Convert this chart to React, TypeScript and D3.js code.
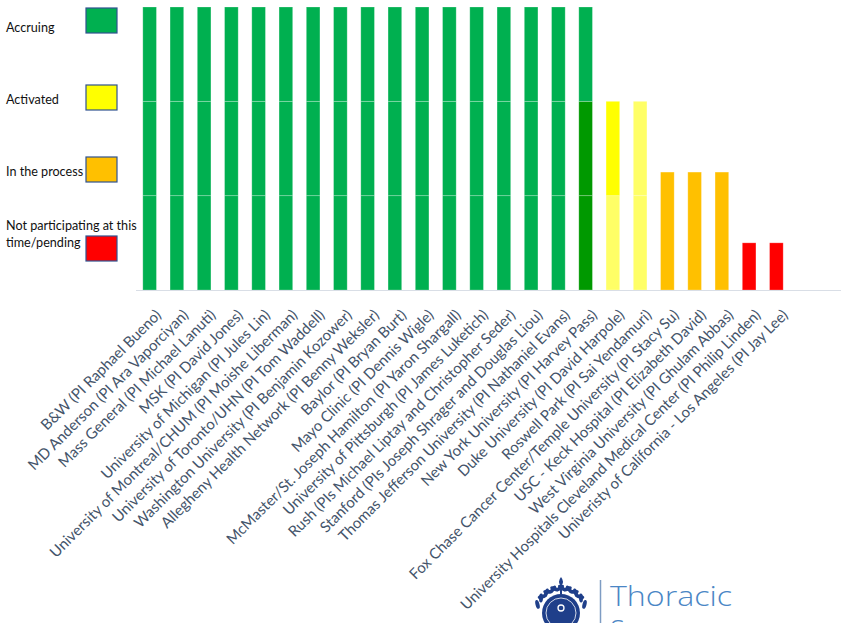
import React from "react";
import * as d3 from "d3";

const sites = [
  "B&W (PI Raphael Bueno)",
  "MD Anderson (PI Ara Vaporciyan)",
  "Mass General (PI Michael Lanuti)",
  "MSK (PI David Jones)",
  "University of Michigan (PI Jules Lin)",
  "University of Montreal/CHUM (PI Moishe Liberman)",
  "University of Toronto/UHN (PI Tom Waddell)",
  "Washington University (PI Benjamin Kozower)",
  "Allegheny Health Network (PI Benny Weksler)",
  "Baylor (PI Bryan Burt)",
  "Mayo Clinic (PI Dennis Wigle)",
  "McMaster/St. Joseph Hamilton (PI Yaron Shargall)",
  "University of Pittsburgh (PI James Luketich)",
  "Rush (PIs Michael Liptay and Christopher Seder)",
  "Stanford (PIs Joseph Shrager and Douglas Liou)",
  "Thomas Jefferson University (PI Nathaniel Evans)",
  "New York University (PI Harvey Pass)",
  "Duke University (PI David Harpole)",
  "Roswell Park (PI Sai Yendamuri)",
  "Fox Chase Cancer Center/Temple University (PI Stacy Su)",
  "USC - Keck Hospital (PI Elizabeth David)",
  "West Virginia University (PI Ghulam Abbas)",
  "University Hospitals Cleveland Medical Center (PI Philip Linden)",
  "Univeristy of California - Los Angeles (PI Jay Lee)",
];

// three stacked layers, bottom to top
const bottomValues = [1, 1, 1, 1, 1, 1, 1, 1, 1, 1, 1, 1, 1, 1, 1, 1, 1, 1, 1, 1.25, 1.25, 1.25, 0.5, 0.5];
const middleValues = [1, 1, 1, 1, 1, 1, 1, 1, 1, 1, 1, 1, 1, 1, 1, 1, 1, 1, 1, 0, 0, 0, 0, 0];
const topValues = [1, 1, 1, 1, 1, 1, 1, 1, 1, 1, 1, 1, 1, 1, 1, 1, 1, 0, 0, 0, 0, 0, 0, 0];

const G = "#00B050", DG = "#009900", Y = "#FFFF00", LY = "#FFFF66", O = "#FFC000", R = "#FF0000";
const bottomColors = [G, G, G, G, G, G, G, G, G, G, G, G, G, G, G, G, DG, LY, LY, O, O, O, R, R];
const middleColors = [G, G, G, G, G, G, G, G, G, G, G, G, G, G, G, G, DG, Y, LY, O, O, O, R, R];
const topColors = [G, G, G, G, G, G, G, G, G, G, G, G, G, G, G, G, G, Y, LY, O, O, O, R, R];

const legendLabels = [["Accruing"], ["Activated"], ["In the process"], ["Not participating at this", "time/pending"]];
const legendColors = [G, Y, O, R];

const layerKeys = ["bottom", "middle", "top"];
const layerColors = [bottomColors, middleColors, topColors];

const NAVY = "#1F3F8A";

export default function App() {
  const W = 841, H = 623;
  const x = d3.scaleBand().domain(sites).range([136, 790]).paddingInner(0.5).paddingOuter(0.25);
  const y = d3.scaleLinear().domain([0, 3]).range([290, 7]);

  const rows = sites.map((s, i) => ({
    site: s,
    bottom: bottomValues[i],
    middle: middleValues[i],
    top: topValues[i],
  }));
  const stacked = d3.stack<any>().keys(layerKeys)(rows);

  const legendBoxY = [8, 85, 157, 236];
  const legendTextY = [[32], [104], [176], [230, 247]];

  // laurel leaves round the seal
  const leafAngles = d3.range(8).map(k => 200 + k * 17);
  const sealX = 561, sealY = 613;

  return (
    <svg width={W} height={H} style={{ position: "absolute", left: 0, top: 0, background: "#fff" }}>
      {/* legend */}
      {legendLabels.map((lines, i) => (
        <g key={i}>
          <rect x={86} y={legendBoxY[i]} width={31} height={25} fill={legendColors[i]} stroke="#2F528F" strokeWidth={1.2} />
          {lines.map((t, j) => (
            <text key={j} x={6} y={legendTextY[i][j]} fontFamily="Lato, 'Open Sans', sans-serif" fontSize={12.6} fill="#111">
              {t}
            </text>
          ))}
        </g>
      ))}

      {/* bars */}
      {stacked.map((layer, li) =>
        layer.map((d, i) =>
          d[1] - d[0] > 0 ? (
            <rect
              key={`${li}-${i}`}
              x={x(sites[i])}
              y={y(d[1])}
              width={x.bandwidth()}
              height={y(d[0]) - y(d[1])}
              fill={layerColors[li][i]}
              stroke="rgba(255,255,255,0.3)"
              strokeWidth={0.8}
            />
          ) : null
        )
      )}

      {/* axis line */}
      <line x1={136} x2={W} y1={290.5} y2={290.5} stroke="#D9DEE6" strokeWidth={1.2} />

      {/* category labels */}
      {sites.map(s => (
        <text
          key={s}
          transform={`translate(${x(s)! + x.bandwidth() / 2 + 12.5},${316}) rotate(-45)`}
          textAnchor="end"
          fontFamily="Lato, 'Open Sans', sans-serif"
          fontSize={15}
          fill="#44546A"
        >
          {s}
        </text>
      ))}

      {/* logo */}
      <g>
        {[-1, 1].map(side =>
          leafAngles.map((a, k) => {
            const ang = side < 0 ? a : 540 - a;
            const rad = (ang * Math.PI) / 180;
            const lx = sealX + 25 * Math.cos(rad);
            const ly = sealY + 25 * Math.sin(rad);
            return (
              <ellipse
                key={`${side}-${k}`}
                cx={lx}
                cy={ly}
                rx={4.5}
                ry={2}
                fill={NAVY}
                transform={`rotate(${ang + 90 + side * 35},${lx},${ly})`}
              />
            );
          })
        )}
        <circle cx={sealX} cy={sealY} r={19} fill={NAVY} />
        <circle cx={sealX} cy={sealY} r={15} fill="none" stroke="#fff" strokeWidth={0.8} />
        <circle cx={sealX} cy={sealY - 5} r={3} fill="none" stroke="#fff" strokeWidth={1.3} />
        <line x1={sealX} x2={sealX} y1={585} y2={594} stroke={NAVY} strokeWidth={2} />
        <path d={`M${sealX} 577 Q${sealX + 4} 582 ${sealX} 586 Q${sealX - 4} 582 ${sealX} 577 Z`} fill={NAVY} />
        <line x1={600.5} x2={600.5} y1={580} y2={H} stroke="#7E9CC3" strokeWidth={1.5} />
        <text x={610} y={606} fontFamily="'Open Sans', Lato, sans-serif" fontWeight={300} fontSize={27} fill="#4A86C5" textLength={122} lengthAdjust="spacingAndGlyphs">
          Thoracic
        </text>
        <text x={610} y={640} fontFamily="'Open Sans', Lato, sans-serif" fontWeight={300} fontSize={27} fill="#4A86C5">
          Surgery
        </text>
      </g>
    </svg>
  );
}
